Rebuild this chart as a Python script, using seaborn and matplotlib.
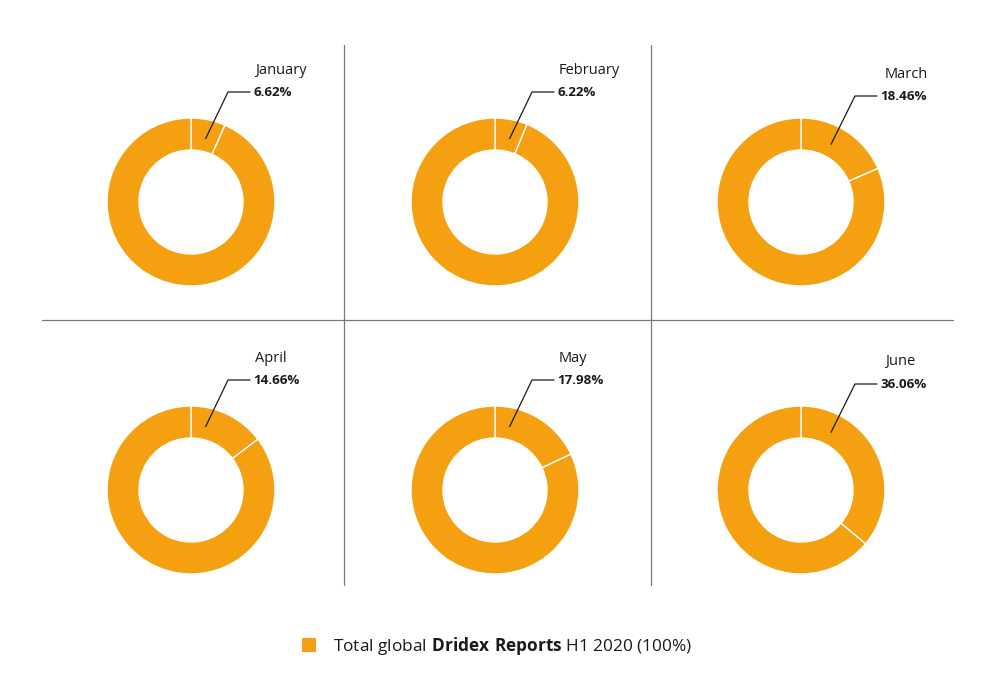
import seaborn as sns
import numpy as np
import matplotlib.pyplot as plt
from matplotlib.patches import Patch
from matplotlib.lines import Line2D

months = ["January", "February", "March", "April", "May", "June"]
shares = [6.62, 6.22, 18.46, 14.66, 17.98, 36.06]
legend_label = "Total global$\\bf{\\ Dridex\\ Reports}$ H1 2020 (100%)"

sns.set_theme(style="white")
plt.rcParams["font.family"] = ["Open Sans", "DejaVu Sans"]
plt.rcParams["mathtext.fontset"] = "custom"
plt.rcParams["mathtext.rm"] = "Open Sans"
plt.rcParams["mathtext.bf"] = "Open Sans:bold"

orange = "#F5A010"
W, H = 1001, 697

fig = plt.figure(figsize=(W / 100, H / 100), dpi=100)

# grid cells in pixels
xs = [42, 344, 651, 953]
ys = [45, 320, 585]
centers_x = [191, 495, 801]
centers_y = [202, 490]
R = 84
ring = 32

for i, (month, share) in enumerate(zip(months, shares)):
    r, c = divmod(i, 3)
    x0, x1 = xs[c], xs[c + 1]
    y0, y1 = ys[r], ys[r + 1]
    cx, cy = centers_x[c], centers_y[r]
    ax = fig.add_axes([x0 / W, 1 - y1 / H, (x1 - x0) / W, (y1 - y0) / H])
    ax.pie([share, 100 - share], colors=[orange, orange], startangle=90,
           counterclock=False, radius=R,
           wedgeprops=dict(width=ring, edgecolor="white", linewidth=1.0))
    ax.set_xlim(x0 - cx, x1 - cx)
    ax.set_ylim(cy - y1, cy - y0)
    ax.set_aspect("equal")
    ax.axis("off")

    # leader line
    big = share > 18
    ang = np.radians(62.5 if big else 77)
    ax_pt = (65 * np.cos(ang), 65 * np.sin(ang))
    elbow_x = 54 if big else 37
    ly = 106 if big else 110
    ax.plot([ax_pt[0], elbow_x, elbow_x + 22], [ax_pt[1], ly, ly],
            color="#1a1a1a", lw=0.9, clip_on=False)
    ax.text(elbow_x + 25, ly, f"{share:.2f}%", fontsize=9.6, fontweight="bold",
            color="#1a1a1a", ha="left", va="center")
    ax.text(elbow_x + 27 + (3 if big else 0), ly + 22, month, fontsize=10.5,
            color="#1a1a1a", ha="left", va="center")

# divider lines
line_color = "#7a7a7a"
fig.add_artist(Line2D([xs[0] / W, xs[3] / W], [1 - ys[1] / H] * 2,
                      color=line_color, lw=0.9))
for xv in [xs[1], xs[2]]:
    fig.add_artist(Line2D([xv / W] * 2, [1 - ys[0] / H, 1 - ys[2] / H],
                          color=line_color, lw=0.9))

fig.legend(handles=[Patch(facecolor=orange, edgecolor="none", label=legend_label)],
           loc="center", bbox_to_anchor=(497 / W, 1 - 646 / H), frameon=False,
           fontsize=12.4, handlelength=0.8, handleheight=0.8, handletextpad=1.0,
           labelcolor="#1a1a1a")

fig.savefig("out.png", dpi=100, facecolor="white")
